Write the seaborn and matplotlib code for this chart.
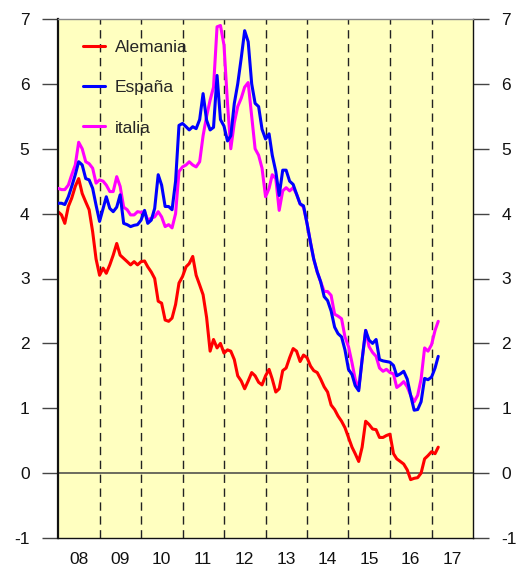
import numpy as np
import pandas as pd
import seaborn as sns
import matplotlib.pyplot as plt

sns.set_theme(style="white")
plt.rcParams['font.family'] = ['Liberation Sans', 'DejaVu Sans']

# monthly 10y yields, Jan 2008 - Mar 2017
alemania = [4.03, 3.98, 3.85, 4.11, 4.24, 4.42, 4.54, 4.31, 4.18, 4.06, 3.72, 3.30,
            3.05, 3.16, 3.08, 3.21, 3.36, 3.54, 3.36, 3.31, 3.26, 3.21, 3.26, 3.21,
            3.26, 3.27, 3.18, 3.10, 3.00, 2.65, 2.62, 2.36, 2.34, 2.39, 2.60, 2.93,
            3.03, 3.18, 3.23, 3.34, 3.05, 2.90, 2.75, 2.40, 1.88, 2.06, 1.93, 2.00,
            1.85, 1.90, 1.88, 1.75, 1.50, 1.42, 1.30, 1.42, 1.55, 1.50, 1.40, 1.36,
            1.50, 1.60, 1.45, 1.25, 1.30, 1.58, 1.62, 1.78, 1.92, 1.88, 1.72, 1.82,
            1.78, 1.65, 1.58, 1.55, 1.45, 1.33, 1.25, 1.05, 0.98, 0.88, 0.80, 0.70,
            0.55, 0.40, 0.30, 0.18, 0.40, 0.80, 0.75, 0.68, 0.67, 0.55, 0.55, 0.58,
            0.60, 0.30, 0.22, 0.18, 0.14, 0.05, -0.10, -0.08, -0.07, 0.00, 0.22, 0.27,
            0.33, 0.30, 0.40]
espana = [4.16, 4.16, 4.14, 4.26, 4.42, 4.60, 4.80, 4.75, 4.54, 4.52, 4.39, 4.13,
          3.88, 4.08, 4.26, 4.08, 4.03, 4.10, 4.29, 3.85, 3.83, 3.80, 3.82, 3.83,
          3.90, 4.05, 3.85, 3.90, 4.08, 4.60, 4.44, 4.11, 4.11, 4.06, 4.50, 5.36,
          5.39, 5.34, 5.29, 5.34, 5.31, 5.45, 5.85, 5.44, 5.29, 5.33, 6.13, 5.45,
          5.35, 5.12, 5.20, 5.70, 6.00, 6.40, 6.82, 6.65, 6.00, 5.70, 5.65, 5.30,
          5.15, 5.23, 4.90, 4.65, 4.28, 4.67, 4.67, 4.50, 4.45, 4.30, 4.15, 4.12,
          3.85, 3.55, 3.30, 3.10, 2.95, 2.72, 2.66, 2.50, 2.25, 2.15, 2.10, 1.90,
          1.60, 1.52, 1.35, 1.27, 1.75, 2.20, 2.05, 2.00, 2.06, 1.75, 1.73, 1.72,
          1.71, 1.66, 1.50, 1.53, 1.57, 1.45, 1.20, 0.97, 0.98, 1.10, 1.46, 1.44,
          1.48, 1.62, 1.80]
italia = [4.39, 4.37, 4.37, 4.44, 4.60, 4.75, 5.10, 5.00, 4.80, 4.77, 4.70, 4.47,
          4.52, 4.50, 4.44, 4.34, 4.34, 4.57, 4.42, 4.10, 4.06, 3.98, 3.98, 4.03,
          4.02, 4.03, 3.90, 3.93, 3.95, 4.03, 3.95, 3.80, 3.83, 3.78, 4.00, 4.65,
          4.72, 4.75, 4.80, 4.75, 4.72, 4.80, 5.20, 5.50, 5.75, 5.95, 6.88, 6.90,
          6.60, 5.70, 5.00, 5.40, 5.65, 5.78, 5.95, 6.02, 5.50, 5.00, 4.90, 4.70,
          4.26, 4.39, 4.60, 4.54, 4.05, 4.35, 4.40, 4.35, 4.40, 4.30, 4.15, 4.10,
          3.85, 3.55, 3.30, 3.10, 2.95, 2.80, 2.80, 2.74, 2.45, 2.42, 2.38, 2.10,
          1.95, 1.70, 1.45, 1.30, 1.75, 2.20, 1.95, 1.86, 1.80, 1.62, 1.57, 1.60,
          1.55, 1.53, 1.32, 1.36, 1.41, 1.33, 1.20, 1.10, 1.20, 1.45, 1.93, 1.88,
          1.98, 2.20, 2.34]

meses = pd.date_range("2008-01-01", periods=len(alemania), freq="MS")
paises = ["Alemania", "España", "italia"]
colores = ["#ff0000", "#0000ff", "#ff00ff"]
year_labels = ["08", "09", "10", "11", "12", "13", "14", "15", "16", "17"]
y_ticks = [-1, 0, 1, 2, 3, 4, 5, 6, 7]

df = pd.DataFrame({"fecha": np.tile(meses, 3),
                   "pais": np.repeat(paises, len(meses)),
                   "valor": alemania + espana + italia})

fig = plt.figure(figsize=(5.17, 5.70), dpi=100)
ax = fig.add_axes([58 / 517, 32 / 570, 415 / 517, 519 / 570])
ax.set_facecolor("#ffffc0")

sns.lineplot(data=df, x="fecha", y="valor", hue="pais", hue_order=paises,
             palette=colores, linewidth=2.2, ax=ax)
# Spain on top of Italy as in the original
ax.lines[1].set_zorder(4)
ax.lines[2].set_zorder(3)

ax.axhline(0, color="#444444", lw=1.1, zorder=1)
for y in range(2009, 2018):
    ax.axvline(pd.Timestamp(f"{y}-01-01"), color="#222222", lw=1,
               ls=(0, (6, 4)), zorder=1)

ax.set_xlim(pd.Timestamp("2008-01-01"), pd.Timestamp("2018-01-01"))
ax.set_ylim(-1, 7)
ax.set_xticks([pd.Timestamp(f"{2008 + k}-07-02") for k in range(len(year_labels))])
ax.set_xticklabels(year_labels)
ax.set_yticks(y_ticks)
ax.set_yticklabels([str(v) for v in y_ticks])
ax.set_xlabel("")
ax.set_ylabel("")

ax.tick_params(axis="x", length=0, pad=10, labelsize=12.5, colors="#111111")
ax.tick_params(axis="y", left=True, right=True, labelleft=True, labelright=True,
               direction="out", length=11.5, width=1, pad=9, labelsize=12.5,
               color="#444444", labelcolor="#111111")

for side in ["left", "right", "bottom"]:
    ax.spines[side].set_color("#111111")
    ax.spines[side].set_linewidth(1)
ax.spines["left"].set_linewidth(1.6)
ax.spines["top"].set_color("#888888")
ax.spines["top"].set_linewidth(1)

ax.legend(loc="upper left", bbox_to_anchor=(0.06, 0.96), frameon=False,
          fontsize=12.5, handlelength=1.25, handletextpad=0.6, labelspacing=1.45,
          borderpad=0, borderaxespad=0)

fig.savefig("out.png", dpi=100)
